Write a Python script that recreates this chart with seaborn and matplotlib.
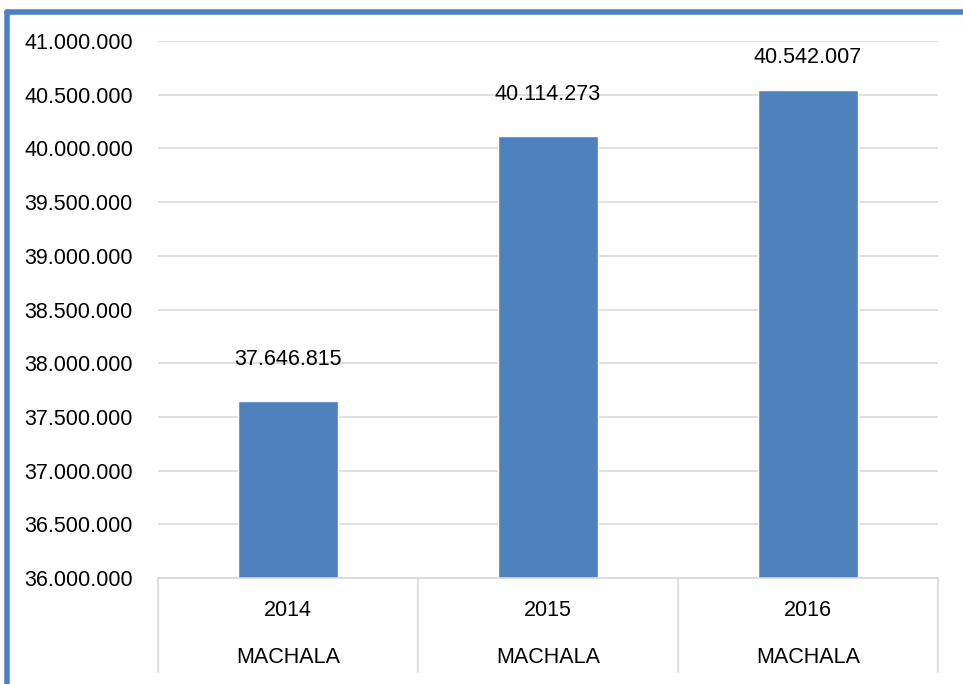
import matplotlib.pyplot as plt
import matplotlib.transforms as mtransforms
import seaborn as sns
import pandas as pd

years = ['2014', '2015', '2016']
city = ['MACHALA', 'MACHALA', 'MACHALA']
values = [37646815, 40114273, 40542007]

df = pd.DataFrame({'year': years, 'value': values})

sns.set_style('white')
plt.rcParams['font.family'] = ['Liberation Sans', 'DejaVu Sans']
plt.rcParams['text.color'] = 'black'
plt.rcParams['ytick.color'] = 'black'

fig = plt.figure(figsize=(9.63, 6.84), dpi=100)
ax = fig.add_axes([0.164, 0.155, 0.81, 0.785])

sns.barplot(data=df, x='year', y='value', color='#4F81BD', saturation=1,
            width=0.385, ax=ax)

fs = 15.5

# eje y
ymin, ymax = 36000000, 41000000
ax.set_ylim(ymin, ymax)
ticks = list(range(ymin, ymax + 1, 500000))
ax.set_yticks(ticks)
ax.set_yticklabels([f'{t:,}'.replace(',', '.') for t in ticks], fontsize=fs)
ax.tick_params(axis='y', length=0, pad=18, labelcolor='black')
ax.grid(axis='y', color='#D9D9D9', linewidth=1.2)
ax.set_axisbelow(True)
for s in ['top', 'right', 'left']:
    ax.spines[s].set_visible(False)
ax.spines['bottom'].set_color('#D9D9D9')
ax.spines['bottom'].set_linewidth(1.2)

# etiquetas de datos (se bajan si no caben dentro del area)
ax_h_pts = 0.785 * 6.84 * 72
for i, v in enumerate(values):
    room = (ymax - v) / (ymax - ymin) * ax_h_pts - 12
    off = min(30, room)
    ax.annotate(f'{v:,}'.replace(',', '.'), (i, v), xytext=(0, off),
                textcoords='offset points', ha='center', va='center', fontsize=fs)

# eje x de dos niveles
ax.set_xticks([])
ax.set_xlabel('')
ax.set_ylabel('')
ax.set_xlim(-0.5, 2.5)
trans = mtransforms.blended_transform_factory(ax.transData, ax.transAxes)
depth = -94 / 537
for b in [-0.5, 0.5, 1.5, 2.5]:
    ax.plot([b, b], [0, depth], transform=trans, color='#D9D9D9',
            linewidth=1.2, clip_on=False)
for i in range(len(years)):
    ax.text(i, -33 / 537, years[i], transform=trans, ha='center', va='center', fontsize=fs)
    ax.text(i, -80 / 537, city[i], transform=trans, ha='center', va='center', fontsize=fs)

# borde azul
fig.add_artist(plt.Line2D([7 / 963, 7 / 963], [0, 1 - 12 / 684], color='#4F81BD',
                          linewidth=4, transform=fig.transFigure))
fig.add_artist(plt.Line2D([7 / 963, 1], [1 - 12 / 684, 1 - 12 / 684], color='#4F81BD',
                          linewidth=4, transform=fig.transFigure))

fig.savefig('out.png', dpi=100)
